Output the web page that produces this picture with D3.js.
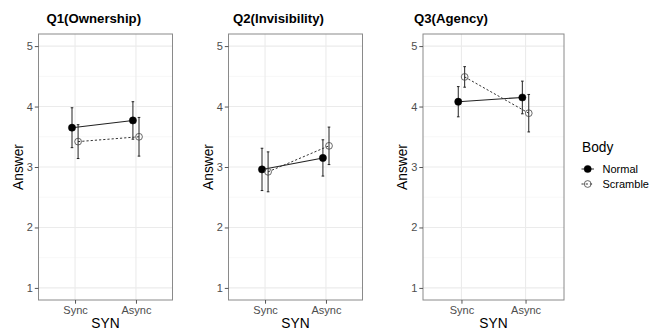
<!DOCTYPE html>
<html>
<head>
<meta charset="utf-8">
<script src="https://cdn.jsdelivr.net/npm/d3@7"></script>
<style>
  body { margin: 0; background: #fff; }
  text { font-family: "Liberation Sans", Arial, sans-serif; }
</style>
</head>
<body>
<div id="chart"></div>
<script>
// data (mean +/- se)
const questions = ["Q1(Ownership)", "Q2(Invisibility)", "Q3(Agency)"];
const synLevels = ["Sync", "Async"];
const bodyLevels = ["Normal", "Scramble"];
const normalMean = [[3.65, 3.77], [2.96, 3.15], [4.08, 4.15]];
const normalSE = [[0.33, 0.31], [0.35, 0.30], [0.25, 0.27]];
const scrambleMean = [[3.42, 3.50], [2.92, 3.35], [4.49, 3.89]];
const scrambleSE = [[0.28, 0.32], [0.33, 0.31], [0.17, 0.31]];
const yTicks = [1, 2, 3, 4, 5];
const yMinor = [1.5, 2.5, 3.5, 4.5];

const width = 666, height = 331;
const plotTop = 34, plotBottom = 300;
// panel boxes (left, right) and title x
const panels = [
  { left: 38.5, right: 172.5, titleX: 46.5 },
  { left: 228.5, right: 362.5, titleX: 233 },
  { left: 423, right: 564, titleX: 414 }
];
const dodge = 0.05;

const svg = d3.select('#chart')
  .append('svg')
  .attr('width', width)
  .attr('height', height)
  .style('background-color', '#fff');

const y = d3.scaleLinear().domain([0.8, 5.2]).range([plotBottom, plotTop]);

questions.forEach((q, qi) => {
  const p = panels[qi];
  const x = d3.scaleLinear().domain([0.4, 2.6]).range([p.left, p.right]);
  const g = svg.append('g');

  // grid
  g.selectAll('.minor').data(yMinor).join('line')
    .attr('x1', p.left).attr('x2', p.right)
    .attr('y1', d => y(d)).attr('y2', d => y(d))
    .attr('stroke', '#f2f2f2').attr('stroke-width', 0.6);
  g.selectAll('.major').data(yTicks).join('line')
    .attr('x1', p.left).attr('x2', p.right)
    .attr('y1', d => y(d)).attr('y2', d => y(d))
    .attr('stroke', '#ebebeb').attr('stroke-width', 1.1);
  g.selectAll('.vmajor').data(synLevels).join('line')
    .attr('x1', (d, i) => x(i + 1)).attr('x2', (d, i) => x(i + 1))
    .attr('y1', plotTop).attr('y2', plotBottom)
    .attr('stroke', '#ebebeb').attr('stroke-width', 1.1);

  // border
  g.append('rect')
    .attr('x', p.left).attr('y', plotTop)
    .attr('width', p.right - p.left).attr('height', plotBottom - plotTop)
    .attr('fill', 'none').attr('stroke', '#8a8a8a').attr('stroke-width', 1);

  // y axis
  const yAxis = g.append('g')
    .attr('transform', `translate(${p.left},0)`)
    .call(d3.axisLeft(y).tickValues(yTicks).tickFormat(d3.format('d'))
      .tickSize(3.7).tickPadding(2));
  yAxis.select('.domain').remove();
  yAxis.selectAll('line').attr('stroke', '#555');
  yAxis.selectAll('text').attr('fill', '#4d4d4d').style('font-size', '11px')
    .style('font-family', '"Liberation Sans", Arial, sans-serif');

  // x axis
  const xAxis = g.append('g')
    .attr('transform', `translate(0,${plotBottom})`)
    .call(d3.axisBottom(x).tickValues([1, 2]).tickFormat((d) => synLevels[d - 1])
      .tickSize(3.7).tickPadding(2));
  xAxis.select('.domain').remove();
  xAxis.selectAll('line').attr('stroke', '#555');
  xAxis.selectAll('text').attr('fill', '#4d4d4d').style('font-size', '11px')
    .style('font-family', '"Liberation Sans", Arial, sans-serif');

  // axis titles
  g.append('text')
    .attr('x', (p.left + p.right) / 2).attr('y', 328)
    .attr('text-anchor', 'middle')
    .style('font-size', '13.75px').attr('fill', '#000')
    .text('SYN');
  g.append('text')
    .attr('transform', `translate(${p.left - 16},${(plotTop + plotBottom) / 2}) rotate(-90)`)
    .attr('text-anchor', 'middle')
    .style('font-size', '13.75px').attr('fill', '#000')
    .text('Answer');

  // title
  g.append('text')
    .attr('x', p.titleX).attr('y', 22.5)
    .style('font-size', '13.2px').style('font-weight', 'bold')
    .text(q);

  const series = [
    { body: 'Normal', mean: normalMean[qi], se: normalSE[qi], off: -dodge },
    { body: 'Scramble', mean: scrambleMean[qi], se: scrambleSE[qi], off: dodge }
  ];

  series.forEach((s) => {
    const pts = s.mean.map((m, i) => ({ x: i + 1 + s.off, m: m, se: s.se[i] }));
    const line = d3.line().x(d => x(d.x)).y(d => y(d.m));
    g.append('path')
      .attr('d', line(pts))
      .attr('fill', 'none')
      .attr('stroke', s.body === 'Normal' ? '#222' : '#333')
      .attr('stroke-width', s.body === 'Normal' ? 1.1 : 1)
      .attr('stroke-dasharray', s.body === 'Normal' ? null : '2.2,2');

    // error bars
    const eb = g.append('g');
    pts.forEach((d) => {
      const cx = x(d.x);
      eb.append('line')
        .attr('x1', cx).attr('x2', cx)
        .attr('y1', y(d.m + d.se)).attr('y2', y(d.m - d.se))
        .attr('stroke', '#222').attr('stroke-width', 1);
      [d.m + d.se, d.m - d.se].forEach((v) => {
        eb.append('line')
          .attr('x1', cx - 1.3).attr('x2', cx + 1.3)
          .attr('y1', y(v)).attr('y2', y(v))
          .attr('stroke', '#222').attr('stroke-width', 1);
      });
    });

    g.selectAll(null).data(pts).join('circle')
      .attr('cx', d => x(d.x))
      .attr('cy', d => y(d.m))
      .attr('r', s.body === 'Normal' ? 3.6 : 3.4)
      .attr('fill', s.body === 'Normal' ? '#000' : 'none')
      .attr('stroke', s.body === 'Normal' ? '#000' : '#444')
      .attr('stroke-width', s.body === 'Normal' ? 0.5 : 0.8);
  });
});

// legend
const lg = svg.append('g');
lg.append('text')
  .attr('x', 582).attr('y', 152)
  .style('font-size', '13.75px')
  .text('Body');
bodyLevels.forEach((b, i) => {
  const ry = 169 + i * 15;
  lg.append('line')
    .attr('x1', 581.5).attr('x2', 594)
    .attr('y1', ry).attr('y2', ry)
    .attr('stroke', '#333').attr('stroke-width', 1)
    .attr('stroke-dasharray', i === 0 ? null : '2.2,2');
  lg.append('circle')
    .attr('cx', 587.7).attr('cy', ry)
    .attr('r', i === 0 ? 3.6 : 3.4)
    .attr('fill', i === 0 ? '#000' : 'none')
    .attr('stroke', i === 0 ? '#000' : '#444')
    .attr('stroke-width', i === 0 ? 0.5 : 0.8);
  lg.append('text')
    .attr('x', 602.5).attr('y', ry + 4)
    .style('font-size', '11px')
    .attr('fill', '#000')
    .text(b);
});
</script>
</body>
</html>
